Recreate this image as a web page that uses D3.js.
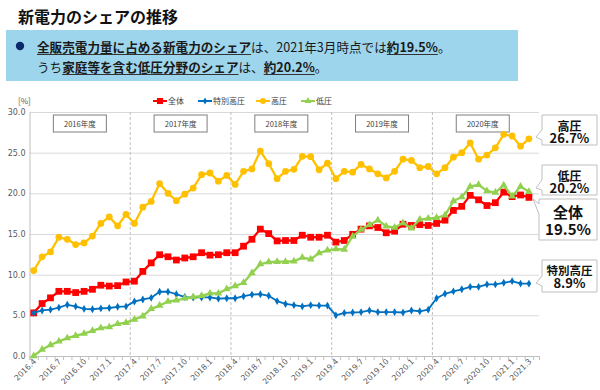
<!DOCTYPE html>
<html>
<head>
<meta charset="utf-8">
<script src="https://cdn.jsdelivr.net/npm/d3@7"></script>
<style>
  body { margin: 0; background: #fff; }
  svg { display: block; font-family: "Noto Sans CJK JP", "Noto Sans", sans-serif; }
</style>
</head>
<body>
<div id="chart"></div>
<script>
// monthly categories, 2016.4 - 2021.3
const months = [
  "2016.4","2016.5","2016.6","2016.7","2016.8","2016.9","2016.10","2016.11","2016.12","2017.1","2017.2","2017.3",
  "2017.4","2017.5","2017.6","2017.7","2017.8","2017.9","2017.10","2017.11","2017.12","2018.1","2018.2","2018.3",
  "2018.4","2018.5","2018.6","2018.7","2018.8","2018.9","2018.10","2018.11","2018.12","2019.1","2019.2","2019.3",
  "2019.4","2019.5","2019.6","2019.7","2019.8","2019.9","2019.10","2019.11","2019.12","2020.1","2020.2","2020.3",
  "2020.4","2020.5","2020.6","2020.7","2020.8","2020.9","2020.10","2020.11","2020.12","2021.1","2021.2","2021.3"
];
const xTickLabels = ["2016.4","2016.7","2016.10","2017.1","2017.4","2017.7","2017.10","2018.1","2018.4","2018.7",
  "2018.10","2019.1","2019.4","2019.7","2019.10","2020.1","2020.4","2020.7","2020.10","2021.1","2021.3"];
const fiscalYears = ["2016年度","2017年度","2018年度","2019年度","2020年度"];
const yTicks = [0, 5, 10, 15, 20, 25, 30];

const zentai = [5.3,6.45,7.15,7.95,7.95,7.8,7.95,8.2,8.7,8.6,
  8.65,9.1,9.2,10.4,11.45,12.45,12.2,11.8,12.05,12.2,
  12.7,12.4,12.45,12.7,12.7,13.5,14.35,15.6,15.05,14.15,
  14.2,14.2,14.85,14.6,14.6,14.85,14.0,14.2,14.95,15.6,
  16.0,15.8,15.15,15.35,16.2,16.05,16.15,16.05,16.3,16.7,
  17.9,18.4,19.75,19.2,18.5,18.85,20.15,19.6,19.8,19.5];
const tokubetsu = [5.3,5.6,5.7,5.95,6.3,6.1,5.8,5.75,5.85,5.9,
  6.05,6.1,6.7,6.95,7.15,7.9,7.9,7.6,7.25,7.2,
  7.2,7.2,7.05,7.1,7.1,7.35,7.55,7.6,7.4,6.75,
  6.4,6.25,6.1,6.25,6.2,6.2,5.0,5.3,5.35,5.4,
  5.6,5.4,5.4,5.4,5.35,5.6,5.5,5.7,7.1,7.65,
  7.95,8.2,8.5,8.5,8.8,8.8,9.0,9.2,8.9,8.9];
const koatsu = [10.5,12.2,12.8,14.6,14.35,13.7,13.9,14.75,16.3,17.1,
  16.0,17.4,16.3,18.3,19.0,21.2,20.0,19.1,19.9,20.65,
  22.3,22.5,21.5,22.2,21.1,22.7,23.0,25.2,23.65,21.8,
  22.7,22.95,24.55,24.5,22.9,23.7,21.8,22.7,22.6,23.55,
  23.0,22.4,21.9,22.7,24.2,24.05,23.15,23.3,22.4,23.15,
  24.45,25.0,26.2,24.2,24.7,25.6,27.25,27.05,25.8,26.7];
const teiatsu = [0.0,0.8,1.35,1.8,2.2,2.5,2.75,3.1,3.45,3.55,
  3.95,4.1,4.5,4.9,5.8,6.2,6.7,6.85,7.1,7.25,
  7.4,7.7,7.7,8.25,8.6,9.0,10.2,11.3,11.55,11.6,
  11.6,11.65,12.1,11.9,12.65,13.0,13.15,13.1,14.7,15.55,
  16.15,16.7,15.95,15.8,16.35,15.7,16.8,16.9,17.0,17.3,
  19.05,19.55,20.85,21.05,20.3,20.1,21.0,19.65,20.85,20.2];

const seriesNames = ["全体", "特別高圧", "高圧", "低圧"];
const seriesValues = [zentai, tokubetsu, koatsu, teiatsu];
const calloutLabels = ["全体", "特別高圧", "高圧", "低圧"];
const calloutValues = ["19.5%", "8.9%", "26.7%", "20.2%"];

const styles = [
  {color: "#FF0000", width: 2.3, symbol: d3.symbolSquare, size: 46},
  {color: "#0070C0", width: 1.8, symbol: d3.symbolDiamond, size: 18},
  {color: "#FFC000", width: 2.3, symbol: d3.symbolCircle, size: 36},
  {color: "#92D050", width: 2.3, symbol: d3.symbolTriangle, size: 26}
];

const W = 600, H = 390;
const svg = d3.select("#chart").append("svg")
    .attr("width", W)
    .attr("height", H);

// ---- header ----
svg.append("text")
    .attr("x", 18).attr("y", 23)
    .attr("font-size", 16).attr("font-weight", 700)
    .attr("fill", "#111")
    .text("新電力のシェアの推移");

svg.append("rect")
    .attr("x", 6).attr("y", 30).attr("width", 512).attr("height", 51)
    .attr("fill", "#9DD5EC");
svg.append("circle")
    .attr("cx", 20).attr("cy", 46).attr("r", 4.2)
    .attr("fill", "#0B2A6B");

const headerLines = [
  {y: 52, parts: [
    {t: "全販売電力量に占める新電力のシェア", b: true},
    {t: "は、2021年3月時点では"},
    {t: "約19.5%", b: true},
    {t: "。"}]},
  {y: 72, parts: [
    {t: "うち"},
    {t: "家庭等を含む低圧分野のシェア", b: true},
    {t: "は、"},
    {t: "約20.2%", b: true},
    {t: "。"}]}
];
headerLines.forEach(line => {
  let cx = 37;
  line.parts.forEach(p => {
    const t = svg.append("text")
        .attr("x", cx).attr("y", line.y)
        .attr("font-size", 12.6)
        .attr("font-weight", p.b ? 700 : 400)
        .attr("fill", "#1a1a1a")
        .text(p.t);
    const w = t.node().getComputedTextLength();
    if (p.b) {
      svg.append("line")
          .attr("x1", cx).attr("x2", cx + w)
          .attr("y1", line.y + 2.5).attr("y2", line.y + 2.5)
          .attr("stroke", "#333").attr("stroke-width", 1);
    }
    cx += w;
  });
});

// ---- chart ----
const x = d3.scaleLinear().domain([0, 60.7]).range([29.5, 539]);
const y = d3.scaleLinear().domain([0, 30]).range([356, 112]);
const cx = i => x(i + 0.5);

// gridlines
svg.append("g")
    .attr("transform", `translate(${x(0)},0)`)
    .call(d3.axisLeft(y).tickValues(yTicks.slice(1)).tickSize(-(x(60.7) - x(0))).tickFormat(""))
    .call(g => g.select(".domain").remove())
    .call(g => g.selectAll("line").attr("stroke", "#D9D9D9").attr("stroke-width", 1));

// y labels
svg.append("g")
    .attr("transform", `translate(${x(0)},0)`)
    .call(d3.axisLeft(y).tickValues(yTicks).tickSize(0).tickPadding(4).tickFormat(d3.format(".1f")))
    .call(g => g.select(".domain").attr("stroke", "#BFBFBF"))
    .call(g => g.selectAll("text")
        .attr("font-family", "DejaVu Sans").attr("font-size", 8).attr("fill", "#595959"));

// dashed fiscal year separators
svg.append("g").selectAll("line")
    .data([12, 24, 36, 48])
    .join("line")
    .attr("x1", d => x(d)).attr("x2", d => x(d))
    .attr("y1", y(30)).attr("y2", y(0))
    .attr("stroke", "#BFBFBF").attr("stroke-dasharray", "3,2").attr("stroke-width", 1);

// x axis
svg.append("g")
    .attr("transform", `translate(0,${y(0)})`)
    .call(d3.axisBottom(x).tickValues(d3.range(0, 61)).tickSize(4).tickFormat(""))
    .call(g => g.select(".domain").attr("stroke", "#BFBFBF"))
    .call(g => g.selectAll(".tick line").attr("stroke", "#BFBFBF"));

svg.append("g").selectAll("text")
    .data(xTickLabels)
    .join("text")
    .attr("transform", d => `translate(${cx(months.indexOf(d)) + 3},${y(0) + 6}) rotate(-45)`)
    .attr("text-anchor", "end")
    .attr("font-family", "DejaVu Sans")
    .attr("font-size", 7.8)
    .attr("fill", "#595959")
    .text(d => d);

// fiscal year boxes
const fy = svg.append("g").selectAll("g")
    .data(fiscalYears)
    .join("g")
    .attr("transform", (d, i) => `translate(${(x(i * 12) + x(i * 12 + 12)) / 2},0)`);
fy.append("rect")
    .attr("x", -26.5).attr("y", 115).attr("width", 53).attr("height", 17)
    .attr("fill", "#fff").attr("stroke", "#7F7F7F").attr("stroke-width", 1);
fy.append("text")
    .attr("y", 126.5).attr("text-anchor", "middle")
    .attr("font-size", 7.5).attr("fill", "#404040")
    .text(d => d);

// "[%]"
svg.append("text")
    .attr("x", 18).attr("y", 104)
    .attr("font-size", 8).attr("fill", "#595959")
    .text("[%]");

// series
const line = d3.line().x((d, i) => cx(i)).y(d => y(d));
seriesValues.forEach((vals, k) => {
  const s = styles[k];
  const g = svg.append("g");
  g.append("path")
      .datum(vals)
      .attr("fill", "none")
      .attr("stroke", s.color)
      .attr("stroke-width", s.width)
      .attr("stroke-linejoin", "round")
      .attr("d", line);
  g.selectAll("path.m")
      .data(vals)
      .join("path")
      .attr("class", "m")
      .attr("transform", (d, i) => `translate(${cx(i)},${y(d)})`)
      .attr("fill", s.color)
      .attr("d", d3.symbol(s.symbol, s.size));
});

// legend
const legendX = [153, 198, 256, 301];
const lg = svg.append("g").selectAll("g")
    .data(seriesNames)
    .join("g")
    .attr("transform", (d, i) => `translate(${legendX[i]},101)`);
lg.append("line")
    .attr("x1", 0).attr("x2", 14)
    .attr("stroke", (d, i) => styles[i].color)
    .attr("stroke-width", 2);
lg.append("path")
    .attr("transform", "translate(7,0)")
    .attr("fill", (d, i) => styles[i].color)
    .attr("d", (d, i) => d3.symbol(styles[i].symbol, styles[i].size * 0.8)());
lg.append("text")
    .attr("x", 15).attr("y", 3)
    .attr("font-size", 8).attr("fill", "#404040")
    .text(d => d);

// callouts: box [x, y, w, h], wedge range on left edge, tip, baselines, font sizes
const callouts = [
  {k: 2, box: [542, 115, 55, 30], wedge: [130, 140], tip: [536, 137], base: [130.5, 143], fs: [12, 13]},
  {k: 3, box: [542, 165, 55, 30], wedge: [180, 190], tip: [536, 188], base: [180.5, 192.5], fs: [12, 13]},
  {k: 0, box: [539, 199, 58, 41], wedge: [204, 214], tip: [533, 199], base: [218, 234.5], fs: [15, 15]},
  {k: 1, box: [542, 260, 55, 32], wedge: [276, 286], tip: [536, 283], base: [274.5, 288], fs: [11.5, 13]}
];
const cg = svg.append("g").selectAll("g")
    .data(callouts)
    .join("g");
cg.append("path")
    .attr("fill", "#fff")
    .attr("stroke", "#BFBFBF")
    .attr("stroke-width", 1)
    .attr("d", d => {
      const [bx, by, bw, bh] = d.box;
      return `M${bx},${by}H${bx + bw}V${by + bh}H${bx}V${d.wedge[1]}L${d.tip[0]},${d.tip[1]}L${bx},${d.wedge[0]}Z`;
    });
cg.append("text")
    .attr("x", d => d.box[0] + d.box[2] / 2)
    .attr("y", d => d.base[0])
    .attr("text-anchor", "middle")
    .attr("font-size", d => d.fs[0]).attr("font-weight", 700).attr("fill", "#111")
    .text(d => calloutLabels[d.k]);
cg.append("text")
    .attr("x", d => d.box[0] + d.box[2] / 2)
    .attr("y", d => d.base[1])
    .attr("text-anchor", "middle")
    .attr("font-size", d => d.fs[1]).attr("font-weight", 700).attr("fill", "#111")
    .text(d => calloutValues[d.k]);
</script>
</body>
</html>
